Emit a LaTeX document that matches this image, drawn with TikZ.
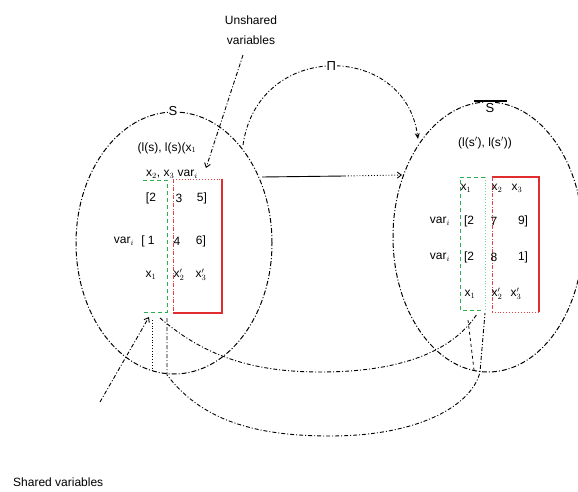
\documentclass[tikz,border=0pt]{standalone}
\usepackage{fontspec}
\setmainfont{Liberation Sans}
\usetikzlibrary{arrows.meta,shapes.geometric}
\definecolor{sharedgreen}{RGB}{40,175,80}
\definecolor{unsharedred}{RGB}{225,45,45}

\begin{document}
\begin{tikzpicture}[x=1pt,y=-1pt,
  txt/.style={inner sep=0pt, font=\fontsize{12}{14}\selectfont},
  statelab/.style={inner sep=1pt, fill=white, font=\fontsize{13}{15}\selectfont},
  stateset/.style={draw, ellipse, inner sep=0pt, line width=1pt,
    dash pattern=on 5pt off 2pt on 1pt off 2pt},
  link/.style={line width=0.9pt, dash pattern=on 4pt off 2pt on 1pt off 2pt},
  barb/.style={-{Straight Barb[length=4pt,width=6pt]}},
  greenbox/.style={sharedgreen, line width=1pt, dash pattern=on 4pt off 3pt},
  greendot/.style={sharedgreen!60, line width=0.8pt, dotted},
  redsolid/.style={unsharedred, line width=1.1pt},
  reddash/.style={unsharedred!90, line width=0.8pt, dash pattern=on 4pt off 1.5pt on 1pt off 1.5pt},
  reddot/.style={unsharedred!90, line width=0.9pt, dotted}
]
\useasboundingbox (0,0) rectangle (578,492);

% the two state sets
\node[stateset, minimum width=196pt, minimum height=262pt] (L) at (174,243) {};
\node[stateset, minimum width=190pt, minimum height=270pt] (R) at (488,237) {};
\node[statelab] (sL) at (173,111) {S};
\node[statelab] (sR) at (490,108) {S};
\draw[line width=1.8pt] ([xshift=-16pt,yshift=1pt]sR.north) -- ([xshift=17pt,yshift=1pt]sR.north);

% shared (green) and unshared (red) columns, left state
\draw[greenbox] (143,180) -- (167,180) -- (167,312) -- (143,312);
\draw[reddot] (173,179) -- (222,179);
\draw[reddash] (173,179) -- (173,313);
\draw[redsolid] (222,179) -- (222,313) -- (173,313);

% shared (green) and unshared (red) columns, right state
\draw[greenbox] (485,177) -- (460,177) -- (460,310) -- (483,310);
\draw[greendot] (485,177) -- (485,310);
\draw[redsolid] (492,177) -- (539,177) -- (539,312);
\draw[reddot] (539,312) -- (492,312);
\draw[reddash] (492,177) -- (492,312);

% contents of the left state
\node[txt] (lhead) at (167,148) {(l(s), l(s)(x$_1$};
\node[txt] (lrow0) at (172,174) {x$_2$, x$_3$ var$_i$};
\node[txt] (l11) at (151,198) {[2};
\node[txt] (l12) at (179,198) {3};
\node[txt] (l13) at (202,198) {5]};
\node[txt] (l2v) at (124,241) {var$_i$};
\node[txt] (l21) at (148,241) {[ 1};
\node[txt] (l22) at (177,241) {4};
\node[txt] (l23) at (201,241) {6]};
\node[txt] (l31) at (151,275) {x$_1$};
\node[txt] (l32) at (179,275) {x$_2^{\prime}$};
\node[txt] (l33) at (201,275) {x$_3^{\prime}$};

% contents of the right state
\node[txt] (rhead) at (485,143) {(l(s$'$), l(s$'$))};
\node[txt] (r01) at (466,188) {x$_1$};
\node[txt] (r02) at (497,188) {x$_2$};
\node[txt] (r03) at (517,188) {x$_3$};
\node[txt] (r1v) at (440,221) {var$_i$};
\node[txt] (r11) at (469,221) {[2};
\node[txt] (r12) at (494,221) {7};
\node[txt] (r13) at (523,221) {9]};
\node[txt] (r2v) at (440,257) {var$_i$};
\node[txt] (r21) at (469,257) {[2};
\node[txt] (r22) at (494,257) {8};
\node[txt] (r23) at (523,257) {1]};
\node[txt] (r31) at (470,294) {x$_1$};
\node[txt] (r32) at (497,294) {x$_2^{\prime}$};
\node[txt] (r33) at (516,294) {x$_3^{\prime}$};

% captions
\node[txt, align=center] (unsh) at (251,30) {Unshared\\[6pt]variables};
\node[txt, anchor=west] (shr) at (13,482) {Shared variables};

% end points of the connectors
\coordinate (ua) at (243,55);
\coordinate (ub) at (206,168);
\coordinate (sa) at (100,402);
\coordinate (sb) at (149,317);
\coordinate (fa) at (243,145);
\coordinate (fb) at (418,139);
\coordinate (ga) at (262,177);
\coordinate (gm) at (345,176);
\coordinate (gb) at (402,175);
\coordinate (sc) at (160,318);
\coordinate (rc) at (477,314);
\coordinate (sd) at (167,318);
\coordinate (rd) at (485,313);

% pointers from the captions
\draw[link, barb] (ua) -- (ub);
\draw[link, barb] (sa) -- (sb);

% transition between the states
\draw[link, -{Stealth[length=6pt,width=5pt]}] (fa) .. controls (258,40) and (405,42) .. (fb)
  node[pos=0.5, fill=white, inner sep=1pt, font=\fontsize{13}{15}\selectfont] (pi) {Π};
\draw[line width=0.9pt] (ga) -- (gm);
\draw[line width=0.9pt, dotted, -{Straight Barb[length=4pt,width=6pt]}] (gm) -- (gb);

% links between the shared columns
\draw[link] (sc) .. controls (200,352) and (245,372) .. (320,372)
  .. controls (400,372) and (452,352) .. (rc);
\draw[link] (sd) -- (167,375) .. controls (200,418) and (250,436) .. (330,436)
  .. controls (420,436) and (472,405) .. (480,372) -- (rd);
\draw[line width=0.8pt, dotted] (152,320) -- (152,372);
\draw[line width=0.8pt, dashed] (468,320) -- (474,370);
\end{tikzpicture}
\end{document}
